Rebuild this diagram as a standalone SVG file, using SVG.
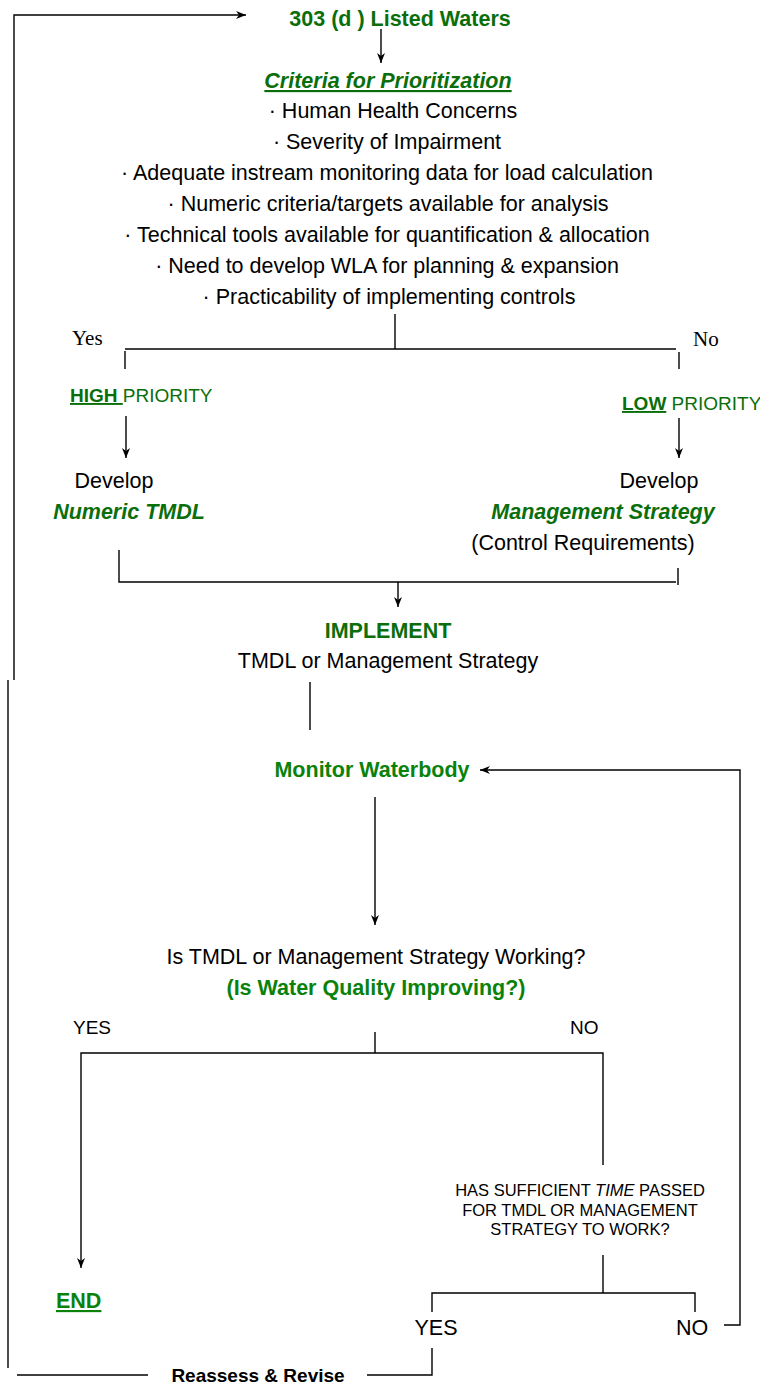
<svg xmlns="http://www.w3.org/2000/svg" width="760" height="1385" viewBox="0 0 760 1385">
<defs>
<marker id="ah" viewBox="0 0 10 10" refX="10" refY="5" markerWidth="10" markerHeight="10" markerUnits="userSpaceOnUse" orient="auto">
<path d="M0,1 L10,5 L0,9 L3,5 Z" fill="#000"/>
</marker>
<style>
text{font-family:"Liberation Sans",Arial,sans-serif;font-size:21.5px;fill:#000}
.c{text-anchor:middle}
.g{fill:#0a6e0a}
.g2{fill:#0a820a}
.b{font-weight:bold}
.i{font-style:italic}
.u{text-decoration:underline}
.s{font-size:19px}
.xs{font-size:16.5px}
.tm{font-family:"Liberation Serif","Times New Roman",serif;font-size:21px}
.ln{stroke:#000;stroke-width:1.4;fill:none}
</style>
</defs>
<rect width="760" height="1385" fill="#fff"/>
<g id="connectors" class="ln">
<polyline points="14,680 14,15 246,15" marker-end="url(#ah)"/>
<line x1="381" y1="29" x2="381" y2="63" marker-end="url(#ah)"/>
<line x1="395" y1="314" x2="395" y2="349"/>
<line x1="125" y1="349" x2="676" y2="349"/>
<line x1="125" y1="351" x2="125" y2="369"/>
<line x1="679" y1="352" x2="679" y2="369"/>
<line x1="126" y1="416" x2="126" y2="458" marker-end="url(#ah)"/>
<line x1="679" y1="418" x2="679" y2="458" marker-end="url(#ah)"/>
<polyline points="119,550 119,582 676,582"/>
<line x1="678" y1="568" x2="678" y2="585"/>
<line x1="398" y1="582" x2="398" y2="607" marker-end="url(#ah)"/>
<line x1="310" y1="682" x2="310" y2="730"/>
<polyline points="724,1325 740,1325 740,770 480,770" marker-end="url(#ah)"/>
<line x1="375" y1="797" x2="375" y2="925" marker-end="url(#ah)"/>
<line x1="375" y1="1032" x2="375" y2="1053"/>
<polyline points="603,1165 603,1053 81,1053 81,1268" marker-end="url(#ah)"/>
<line x1="603" y1="1255" x2="603" y2="1293"/>
<polyline points="432,1312 432,1293 695,1293 695,1312"/>
<line x1="8" y1="680" x2="8" y2="1368"/>
<line x1="17" y1="1375" x2="148" y2="1375"/>
<polyline points="367,1375 432,1375 432,1348"/>
</g>
<g id="n-listed"><text class="c g b" x="400" y="26">303 (d ) Listed Waters</text></g>
<g id="n-criteria">
<text class="c g b i u" x="388" y="88">Criteria for Prioritization</text>
<text class="c" x="393" y="118">· Human Health Concerns</text>
<text class="c" x="387" y="149">· Severity of Impairment</text>
<text class="c" x="387" y="180">· Adequate instream monitoring data for load calculation</text>
<text class="c" x="388" y="211">· Numeric criteria/targets available for analysis</text>
<text class="c" x="387" y="242">· Technical tools available for quantification &amp; allocation</text>
<text class="c" x="387" y="273">· Need to develop WLA for planning &amp; expansion</text>
<text class="c" x="389" y="304">· Practicability of implementing controls</text>
</g>
<g id="l-yes"><text class="tm" x="72" y="345">Yes</text></g>
<g id="l-no"><text class="tm" x="693" y="346">No</text></g>
<g id="n-high"><text class="g s" x="70" y="402"><tspan class="b u">HIGH </tspan>PRIORITY</text></g>
<g id="n-low"><text class="g s" x="622" y="410"><tspan class="b u">LOW</tspan> PRIORITY</text></g>
<g id="n-tmdl">
<text class="c" x="114" y="488">Develop</text>
<text class="c g b i" x="129" y="519">Numeric TMDL</text>
</g>
<g id="n-mgmt">
<text class="c" x="659" y="488">Develop</text>
<text class="c g b i" x="603" y="519">Management Strategy</text>
<text class="c" x="583" y="550">(Control Requirements)</text>
</g>
<g id="n-implement">
<text class="c g b" x="388" y="638">IMPLEMENT</text>
<text class="c" x="388" y="668">TMDL or Management Strategy</text>
</g>
<g id="n-monitor"><text class="c g2 b" x="372" y="777">Monitor Waterbody</text></g>
<g id="n-working">
<text class="c" x="376" y="964">Is TMDL or Management Strategy Working?</text>
<text class="c g2 b" x="376" y="995">(Is Water Quality Improving?)</text>
</g>
<g id="l-yes2"><text class="s" x="73" y="1034">YES</text></g>
<g id="l-no2"><text class="s" x="570" y="1034">NO</text></g>
<g id="n-time">
<text class="c xs" x="580" y="1196">HAS SUFFICIENT <tspan class="i">TIME</tspan> PASSED</text>
<text class="c xs" x="580" y="1216">FOR TMDL OR MANAGEMENT</text>
<text class="c xs" x="580" y="1235">STRATEGY TO WORK?</text>
</g>
<g id="n-end"><text class="g2 b u" x="56" y="1308">END</text></g>
<g id="l-yes3"><text class="c" x="436" y="1335">YES</text></g>
<g id="l-no3"><text class="c" x="692" y="1335">NO</text></g>
<g id="l-reassess"><text class="c b s" x="258" y="1382">Reassess &amp; Revise</text></g>
</svg>
